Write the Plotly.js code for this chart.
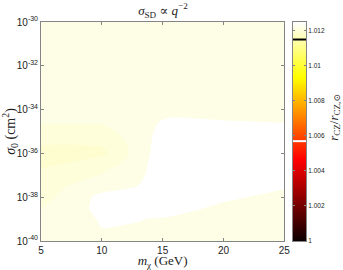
<!DOCTYPE html>
<html><head><meta charset="utf-8">
<script src="https://cdn.plot.ly/plotly-3.0.1.min.js"></script>
<style>html,body{margin:0;padding:0;background:#fff}</style>
</head><body><div id="chart" style="width:343px;height:270px"></div>
<script>
// Dark-matter mass (GeV) grid columns
const massGeV = [5, 7, 9, 10, 11, 12, 13, 14, 15, 20, 25];
// log10 of sigma_0 (cm^2) grid rows
const log10Sigma = [-40, -39.5, -39, -38.5, -38, -37.5, -37, -36.5, -36, -35.5, -35, -34.5, -34, -32, -30];
// r_CZ / r_CZ,sun (rows follow log10Sigma, columns follow massGeV)
const rczRatio = [
  [1.0121,   1.0121,   1.0121,   1.0121,   1.0121,   1.0121,   1.0121,   1.0121,   1.0121,  1.0121,  1.0121],
  [1.012067, 1.0121,   1.0121,   1.012177, 1.01216,  1.01214,  1.01212,  1.01211,  1.0121,  1.0121,  1.0121],
  [1.012033, 1.0121,   1.0121,   1.012282, 1.0123,   1.01226,  1.01223,  1.012187, 1.01218, 1.0121,  1.0121],
  [1.011995, 1.0121,   1.012205, 1.0124,   1.0124,   1.0124,   1.0124,   1.0124,   1.01235, 1.01213, 1.0121],
  [1.011944, 1.012047, 1.012187, 1.012251, 1.01227,  1.0123,   1.01235,  1.0124,   1.01245, 1.01226, 1.01211],
  [1.011889, 1.011991, 1.0121,   1.012123, 1.01215,  1.01217,  1.012204, 1.0123,   1.01245, 1.01245, 1.01223],
  [1.011833, 1.011898, 1.011967, 1.012011, 1.01209,  1.0121,   1.01216,  1.012231, 1.01245, 1.01245, 1.01245],
  [1.011773, 1.011806, 1.011854, 1.011892, 1.011975, 1.01203,  1.01212,  1.012227, 1.01245, 1.01245, 1.01245],
  [1.011735, 1.01172,  1.01175,  1.01177,  1.011835, 1.011975, 1.0121,   1.012203, 1.01245, 1.01245, 1.01245],
  [1.011819, 1.011819, 1.01182,  1.01182,  1.01189,  1.012002, 1.0121,   1.012178, 1.01245, 1.01245, 1.01245],
  [1.011935, 1.011935, 1.011935, 1.011947, 1.011995, 1.01205,  1.0121,   1.012133, 1.0124,  1.01245, 1.01235],
  [1.012031, 1.012031, 1.012031, 1.012033, 1.012045, 1.01209,  1.0121,   1.0121,   1.012211,1.012202,1.01216],
  [1.0121,   1.0121,   1.0121,   1.0121,   1.0121,   1.0121,   1.0121,   1.0121,   1.0121,  1.0121,  1.0121],
  [1.0121,   1.0121,   1.0121,   1.0121,   1.0121,   1.0121,   1.0121,   1.0121,   1.0121,  1.0121,  1.0121],
  [1.0121,   1.0121,   1.0121,   1.0121,   1.0121,   1.0121,   1.0121,   1.0121,   1.0121,  1.0121,  1.0121]
];
// filled-contour levels
const contourStart = 1.0118, contourEnd = 1.0122, contourStep = 0.0002;
// x / y ticks
const xTicks = [5, 10, 15, 20, 25];
const yTickExp = [-40, -38, -36, -34, -32, -30];
// colour bar
const cbMin = 1, cbMax = 1.0125;
const cbTicks = [1, 1.002, 1.004, 1.006, 1.008, 1.01, 1.012];
const cbTickText = ['1', '1.002', '1.004', '1.006', '1.008', '1.01', '1.012'];
const markLevels = [1.0115, 1.0057];
const markColors = ['#000000', '#ffffff'];

// styles
const bandColors = ['#fdfdcf', '#fefedb', '#fefee6', '#ffffff'];
const hotScale = [[0, 'rgb(10,0,0)'], [0.375, 'rgb(255,0,0)'], [0.75, 'rgb(255,255,0)'], [1, 'rgb(255,255,255)']];
const axisGray = '#858585';
const serif = 'Liberation Serif, DejaVu Serif, serif';
const sans = 'Liberation Sans, Arial, sans-serif';

const contourTrace = {
  type: 'contour',
  x: massGeV,
  y: log10Sigma.map(e => Math.pow(10, e)),
  z: rczRatio,
  contours: {start: contourStart, end: contourEnd, size: contourStep, coloring: 'fill', showlines: false},
  line: {smoothing: 1, width: 0},
  colorscale: bandColors.map((c, i) => [i / (bandColors.length - 1), c]),
  showscale: false,
  hoverinfo: 'skip'
};

const colorbarTrace = {
  type: 'heatmap',
  x: [0, 1],
  y: [cbMin, cbMax],
  z: [[cbMin, cbMin], [cbMax, cbMax]],
  zmin: cbMin, zmax: cbMax,
  colorscale: hotScale,
  zsmooth: 'best',
  showscale: false,
  xaxis: 'x2', yaxis: 'y2',
  hoverinfo: 'skip'
};

const shapes = markLevels.map((v, i) => ({
  type: 'line', xref: 'x2', yref: 'y2', x0: 0, x1: 1, y0: v, y1: v,
  line: {color: markColors[i], width: 2}, layer: 'above'
}));

const layout = {
  width: 343, height: 270,
  margin: {l: 41, r: 37, t: 22, b: 29},
  paper_bgcolor: '#ffffff', plot_bgcolor: '#ffffff',
  showlegend: false,
  title: {text: '<i>σ</i><sub>SD</sub> ∝ <i>q</i><sup>−2</sup>', x: 0.475, xanchor: 'center', y: 0.962, yanchor: 'middle',
          font: {family: serif, size: 13, color: '#222'}},
  xaxis: {
    domain: [0, 0.918], range: [5, 25], tickvals: xTicks, ticks: 'inside', ticklen: 3, tickcolor: axisGray,
    showline: true, linecolor: axisGray, linewidth: 1, mirror: 'ticks', showgrid: false, zeroline: false,
    tickfont: {family: sans, size: 10, color: '#222'},
    title: {text: '<i>m</i><sub>χ</sub> (GeV)', font: {family: serif, size: 13, color: '#222'}, standoff: 2}
  },
  yaxis: {
    type: 'log', range: [-40, -30], tickvals: yTickExp.map(e => Math.pow(10, e)),
    ticktext: yTickExp.map(e => '10<sup>' + e + '</sup>'),
    ticks: 'inside', ticklen: 3, tickcolor: axisGray,
    showline: true, linecolor: axisGray, linewidth: 1, mirror: 'ticks', showgrid: false, zeroline: false,
    tickfont: {family: sans, size: 10, color: '#222'},
    title: {text: '<i>σ</i><sub>0</sub> (cm<sup>2</sup>)', font: {family: serif, size: 14, color: '#222'}, standoff: 2}
  },
  xaxis2: {
    domain: [0.951, 1], anchor: 'y2', range: [0, 1], showticklabels: false, ticks: '',
    showline: true, linecolor: axisGray, mirror: true, showgrid: false, zeroline: false, fixedrange: true
  },
  yaxis2: {
    domain: [0, 1], anchor: 'x2', side: 'right', range: [cbMin, cbMax], tickvals: cbTicks, ticktext: cbTickText,
    ticks: 'inside', ticklen: 2, tickcolor: axisGray, showline: true, linecolor: axisGray, mirror: 'ticks',
    showgrid: false, zeroline: false, tickfont: {family: sans, size: 6.5, color: '#222'}
  },
  shapes: shapes,
  annotations: [{
    xref: 'paper', yref: 'paper', x: 1.105, y: 0.566, xanchor: 'center', yanchor: 'middle',
    text: '<i>r</i><sub>CZ</sub>/<i>r</i><sub>CZ,⊙</sub>', textangle: -90, showarrow: false,
    font: {family: serif, size: 13, color: '#222'}
  }]
};

Plotly.newPlot('chart', [contourTrace, colorbarTrace], layout, {staticPlot: true, displayModeBar: false});
</script></body></html>
